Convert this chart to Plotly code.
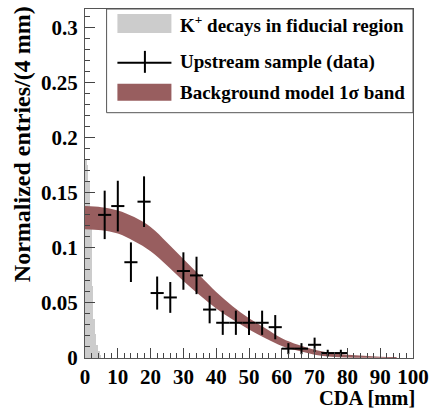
import plotly.graph_objects as go

# K+ decays in fiducial region (0.5 mm bins)
k_x = [0.25, 0.75, 1.25, 1.75, 2.25, 2.75, 3.25, 3.75, 4.25, 4.75]
k_y = [0.180, 0.175, 0.160, 0.120, 0.065, 0.035, 0.022, 0.012, 0.006, 0.003]

# Upstream sample (data)
d_x = [6, 10, 14, 18, 22, 26, 30, 34, 38, 42, 46, 50, 54, 58, 62, 66, 70, 74, 78]
d_y = [0.130, 0.138, 0.087, 0.142, 0.059, 0.055, 0.079, 0.075, 0.044, 0.032,
       0.032, 0.032, 0.032, 0.028, 0.0085, 0.0085, 0.012, 0.0045, 0.0045]
d_err = [0.022, 0.023, 0.018, 0.023, 0.015, 0.014, 0.017, 0.017, 0.0125, 0.011,
         0.011, 0.011, 0.011, 0.011, 0.005, 0.005, 0.0065, 0.003, 0.003]
d_xerr = 2

# Background model 1 sigma band
b_x = [0, 5, 10, 15, 20, 25, 30, 35, 40, 45, 50, 55, 60, 65, 70, 75, 80, 85, 90, 95]
b_up = [0.138, 0.137, 0.134, 0.128, 0.119, 0.105, 0.090, 0.075, 0.060, 0.047,
        0.036, 0.027, 0.018, 0.012, 0.0075, 0.0045, 0.003, 0.002, 0.0012, 0.0008]
b_lo = [0.117, 0.116, 0.113, 0.106, 0.097, 0.084, 0.070, 0.057, 0.045, 0.035,
        0.026, 0.018, 0.011, 0.0065, 0.003, 0.0012, 0.0005, 0.0003, 0.0002, 0.0001]

x_ticks = [0, 10, 20, 30, 40, 50, 60, 70, 80, 90, 100]
y_ticks = [0, 0.05, 0.1, 0.15, 0.2, 0.25, 0.3]

GRAY = "#cccccc"
BAND = "#985e5f"
FONT = "Liberation Serif, Times New Roman, DejaVu Serif, serif"

fig = go.Figure()
fig.add_trace(go.Bar(x=k_x, y=k_y, width=0.5, marker=dict(color=GRAY, line=dict(width=0)),
                     showlegend=False))
fig.add_trace(go.Scatter(x=b_x, y=b_lo, mode="lines", line=dict(width=0, shape="spline"),
                         showlegend=False, hoverinfo="skip"))
fig.add_trace(go.Scatter(x=b_x, y=b_up, mode="lines", line=dict(width=0, shape="spline"),
                         fill="tonexty", fillcolor=BAND, showlegend=False))
fig.add_trace(go.Scatter(x=d_x, y=d_y, mode="markers", marker=dict(size=0.1, color="black"),
                         error_x=dict(type="constant", value=d_xerr, width=0, thickness=2, color="black"),
                         error_y=dict(type="data", array=d_err, width=0, thickness=2, color="black"),
                         showlegend=False))

# legend box (paper coordinates)
def px(xp):
    return (xp - 85) / 334.0

def py(yp):
    return (358 - yp) / 350.0

fig.add_shape(type="rect", xref="paper", yref="paper", x0=px(107), x1=1, y0=py(112), y1=1,
              line=dict(color="#555555", width=1), fillcolor="white", layer="above")
fig.add_shape(type="rect", xref="paper", yref="paper", x0=px(118), x1=px(173), y0=py(32), y1=py(13),
              line=dict(width=0), fillcolor=GRAY, layer="above")
fig.add_shape(type="line", xref="paper", yref="paper", x0=px(118), x1=px(173), y0=py(62), y1=py(62),
              line=dict(color="black", width=2), layer="above")
fig.add_shape(type="line", xref="paper", yref="paper", x0=px(146), x1=px(146), y0=py(72), y1=py(50),
              line=dict(color="black", width=2), layer="above")
fig.add_shape(type="rect", xref="paper", yref="paper", x0=px(118), x1=px(173), y0=py(100), y1=py(83),
              line=dict(width=0), fillcolor=BAND, layer="above")
labels = ["<b>K<sup>+</sup> decays in fiducial region</b>", "<b>Upstream sample (data)</b>",
          "<b>Background model 1σ band</b>"]
rows = [23, 61, 92]
for t, r in zip(labels, rows):
    fig.add_annotation(text=t, xref="paper", yref="paper", x=px(180), y=py(r), xanchor="left",
                       yanchor="middle", showarrow=False, font=dict(family=FONT, size=19, color="black"))

fig.add_annotation(text="<b>CDA [mm]</b>", xref="paper", yref="paper", x=px(423), y=py(398),
                   xanchor="right", yanchor="middle", showarrow=False,
                   font=dict(family=FONT, size=20.5, color="black"))
fig.add_annotation(text="<b>Normalized entries/(4 mm)</b>", xref="paper", yref="paper",
                   x=px(21), y=py(3), xanchor="center", yanchor="top", textangle=-90, showarrow=False,
                   font=dict(family=FONT, size=24, color="black"))

fig.update_layout(
    width=437, height=411, margin=dict(l=85, r=18, t=8, b=53),
    paper_bgcolor="white", plot_bgcolor="white", bargap=0,
    font=dict(family=FONT, size=20, color="black"),
)
fig.update_xaxes(range=[0, 100], tickvals=x_ticks, ticktext=[f"<b>{v}</b>" for v in x_ticks],
                 tickfont=dict(family=FONT, size=21, color="black"),
                 ticks="inside", ticklen=10, tickcolor="#444", showline=True, linecolor="#555",
                 mirror=True, showgrid=False, zeroline=False,
                 minor=dict(dtick=2, ticks="inside", ticklen=5, tickcolor="#444", showgrid=False))
fig.update_yaxes(range=[0, 0.317], tickvals=y_ticks, ticktext=[f"<b>{v:g}</b>" for v in y_ticks],
                 tickfont=dict(family=FONT, size=21, color="black"), ticklabelstandoff=2,
                 ticks="inside", ticklen=10, tickcolor="#444", showline=True, linecolor="#555",
                 mirror=True, showgrid=False, zeroline=False,
                 minor=dict(dtick=0.01, ticks="inside", ticklen=5, tickcolor="#444", showgrid=False))

fig.write_html("out.html")
